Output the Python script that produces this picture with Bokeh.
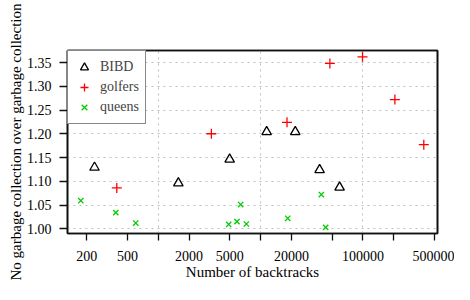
from bokeh.plotting import figure
from bokeh.models import FixedTicker, Legend, LegendItem, Range1d, LogAxis, LinearAxis
from bokeh.embed import file_html
from bokeh.resources import INLINE

# ---- data ----
bibd_x = [238, 1570, 4980, 11450, 21800, 37700, 59100]
bibd_y = [1.129, 1.096, 1.146, 1.204, 1.204, 1.124, 1.087]

golfers_x = [393, 3300, 18100, 47500, 99000, 205000, 393000]
golfers_y = [1.086, 1.200, 1.224, 1.348, 1.362, 1.272, 1.177]

queens_x = [175, 384, 602, 4870, 5870, 6380, 7250, 18400, 39200, 43200]
queens_y = [1.059, 1.034, 1.012, 1.009, 1.015, 1.051, 1.010, 1.022, 1.072, 1.003]

x_ticks = [200, 500, 1000, 2000, 5000, 10000, 20000, 50000, 100000, 200000, 500000]
x_tick_labels = ["200", "500", "", "2000", "5000", "", "20000", "", "100000", "", "500000"]
x_grid_lines = [1000, 10000, 100000]

y_ticks = [1.00, 1.05, 1.10, 1.15, 1.20, 1.25, 1.30, 1.35]
y_tick_labels = ["1.00", "1.05", "1.10", "1.15", "1.20", "1.25", "1.30", "1.35"]

series_names = ["BIBD", "golfers", "queens"]

FONT = "Liberation Serif"
FS = "14px"
TITLE_FS = "15px"
INK = "#111111"

p = figure(width=454, height=284, x_axis_type="log",
           x_range=Range1d(129.6, 535000), y_range=Range1d(0.990, 1.3753),
           output_backend="svg", toolbar_location=None,
           x_axis_label="Number of backtracks",
           y_axis_label="No garbage collection over garbage collection")
p.min_border_left = 67
p.min_border_right = 17
p.min_border_top = 50
p.min_border_bottom = 51
p.background_fill_color = "white"
p.border_fill_color = "white"
p.outline_line_color = INK
p.outline_line_width = 1.6

r_b = p.scatter(bibd_x, bibd_y, marker="triangle", size=9.5, fill_color=None,
                line_color="black", line_width=1.3)
r_g = p.scatter(golfers_x, golfers_y, marker="cross", size=10,
                line_color="#FF0000", line_width=1.3)
r_q = p.scatter(queens_x, queens_y, marker="x", size=7.5,
                line_color="#00CD00", line_width=1.3)

xa = p.xaxis[0]
ya = p.yaxis[0]
xa.ticker = FixedTicker(ticks=x_ticks)
xa.major_label_overrides = dict(zip(x_ticks, x_tick_labels))
ya.ticker = FixedTicker(ticks=y_ticks)
ya.major_label_overrides = dict(zip(y_ticks, y_tick_labels))

for ax in (xa, ya):
    ax.axis_line_color = INK
    ax.axis_line_width = 1.6
    ax.major_tick_in = 0
    ax.minor_tick_in = 0
    ax.minor_tick_out = 0
    ax.major_tick_line_color = INK
    ax.major_tick_line_width = 1.3
    ax.major_label_text_font = FONT
    ax.major_label_text_font_size = FS
    ax.major_label_text_color = "black"
    ax.axis_label_text_font = FONT
    ax.axis_label_text_font_size = TITLE_FS
    ax.axis_label_text_font_style = "normal"
    ax.axis_label_text_color = "black"

xa.major_tick_out = 7
xa.major_label_standoff = 10
xa.axis_label_standoff = 0
ya.major_tick_out = 8
ya.major_label_standoff = 8
ya.axis_label_standoff = 0

# box edges on the top and right (plain axis lines without ticks)
top_edge = LogAxis(ticker=FixedTicker(ticks=[]), axis_line_color=INK, axis_line_width=1.6,
                   major_tick_out=0, major_tick_in=0, minor_tick_out=0, minor_tick_in=0,
                   major_label_text_font_size="0px", major_label_standoff=0)
right_edge = LinearAxis(ticker=FixedTicker(ticks=[]), axis_line_color=INK, axis_line_width=1.6,
                        major_tick_out=0, major_tick_in=0, minor_tick_out=0, minor_tick_in=0,
                        major_label_text_font_size="0px", major_label_standoff=0)
p.add_layout(top_edge, "above")
p.add_layout(right_edge, "right")

p.xgrid.ticker = FixedTicker(ticks=x_grid_lines)
p.ygrid.ticker = FixedTicker(ticks=y_ticks)
for g in (p.xgrid[0], p.ygrid[0]):
    g.grid_line_color = "#BEBEBE"
    g.grid_line_dash = "2 4"
    g.grid_line_width = 1

legend = Legend(items=[LegendItem(label=series_names[0], renderers=[r_b]),
                       LegendItem(label=series_names[1], renderers=[r_g]),
                       LegendItem(label=series_names[2], renderers=[r_q])],
                location="top_left", margin=0, padding=6, spacing=-3,
                glyph_width=20, glyph_height=20, label_height=14, label_standoff=6,
                label_text_font=FONT, label_text_font_size=FS,
                border_line_color=INK, border_line_width=1.6,
                background_fill_color="white", background_fill_alpha=1.0)
p.add_layout(legend)

open("out.html", "w").write(file_html(p, INLINE))
